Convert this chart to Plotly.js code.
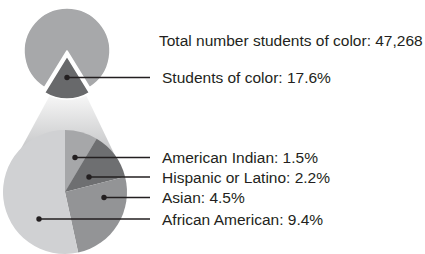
<!DOCTYPE html>
<html><head><meta charset="utf-8">
<script src="https://cdn.plot.ly/plotly-3.0.1.min.js"></script>
<style>html,body{margin:0;padding:0;background:#fff;overflow:hidden}</style>
</head><body><div id="chart" style="width:425px;height:254px"></div>
<script>
// ---- data ----
const totalStudents = 47268;
const topLabels = ['Other students', 'Students of color'];
const topValues = [82.4, 17.6];
const groupLabels = ['American Indian', 'Hispanic or Latino', 'Asian', 'African American'];
const groupValues = [1.5, 2.2, 4.5, 9.4];

// ---- layout geometry (pixels) ----
const W = 425, H = 254;
const topC = {x: 67, y: 51, r: 43}, pull = 0.12;
const botC = {x: 65, y: 192, r: 62};
const ink = '#231f20';
const FAMILY = '"Liberation Sans", Arial, sans-serif';
const FS = 15.5;
const py = v => H - v; // pixel y -> data y

const topLeader = {dx: 67, y: 77.5};
const groupLeader = [{dx: 75, y: 157.5}, {dx: 89, y: 177}, {dx: 104, y: 197.5}, {dx: 39, y: 219}];
const lineEnd = 150, textX = 160;

const totalText = 'Total number students of color: ' + totalStudents.toLocaleString('en-US');
const topText = 'Students of color: ' + topValues[1].toFixed(1) + '%';
const groupTexts = groupLabels.map((g, i) => g + ': ' + groupValues[i].toFixed(1) + '%');

// cone (gradient trapezoid) from the pulled slice down to tangents of the bottom pie
const tl = [50, 95], tr = [86, 95];
function tangent(p, dirx) {
  const len2 = dirx * dirx + 1;
  const t = ((botC.x - p[0]) * dirx + (botC.y - p[1])) / len2;
  return [p[0] + t * dirx, p[1] + t];
}
const sl = -0.54, sr = 0.48;
const lt = tangent(tl, sl), rt = tangent(tr, sr);
const coneX = [tl[0], tr[0], rt[0], botC.x, lt[0], tl[0]];
const coneY = [tl[1], tr[1], rt[1], botC.y, lt[1], tl[1]].map(py);

const topSum = topValues[0] + topValues[1];
const traces = [
  {type: 'scatter', x: coneX, y: coneY, mode: 'lines', line: {width: 0},
   fill: 'toself', fillcolor: '#d8d8d8',
   fillgradient: {type: 'vertical', start: py(165), stop: py(96),
     colorscale: [[0, '#b9babc'], [1, '#f6f6f6']]},
   hoverinfo: 'skip', showlegend: false},
  {type: 'pie', labels: topLabels, values: topValues, sort: false, direction: 'clockwise',
   rotation: 180 - (topValues[1] / topSum) * 180 - (topValues[0] / topSum) * 360,
   pull: [0, pull],
   marker: {colors: ['#a7a8aa', '#68696b'], line: {color: '#ffffff', width: 1.6}},
   textinfo: 'none', hoverinfo: 'skip', showlegend: false,
   domain: {x: [(topC.x - topC.r * (1 + pull)) / W, (topC.x + topC.r * (1 + pull)) / W],
            y: [(H - topC.y - topC.r * (1 + pull)) / H, (H - topC.y + topC.r * (1 + pull)) / H]}},
  {type: 'pie', labels: groupLabels, values: groupValues, sort: false, direction: 'clockwise',
   rotation: 0,
   marker: {colors: ['#a6a7a9', '#6e6f71', '#939496', '#d0d1d3'], line: {width: 0}},
   textinfo: 'none', hoverinfo: 'skip', showlegend: false,
   domain: {x: [(botC.x - botC.r) / W, (botC.x + botC.r) / W],
            y: [Math.max(0, (H - botC.y - botC.r) / H), (H - botC.y + botC.r) / H]}}
];

const shapes = [], annotations = [];
function leader(dx, y, text) {
  shapes.push({type: 'line', xref: 'x', yref: 'y', x0: dx, x1: lineEnd, y0: py(y), y1: py(y),
               line: {color: ink, width: 1.3}, layer: 'above'});
  shapes.push({type: 'circle', xref: 'x', yref: 'y', x0: dx - 2.7, x1: dx + 2.7, y0: py(y) - 2.7, y1: py(y) + 2.7,
               fillcolor: ink, line: {width: 0}, layer: 'above'});
  annotations.push({xref: 'x', yref: 'y', x: textX, y: py(y), text: text, showarrow: false,
                    xanchor: 'left', yanchor: 'middle', font: {family: FAMILY, size: FS, color: ink}});
}
leader(topLeader.dx, topLeader.y, topText);
groupTexts.forEach((t, i) => leader(groupLeader[i].dx, groupLeader[i].y, t));
annotations.push({xref: 'x', yref: 'y', x: textX - 3, y: py(40), showarrow: false, xanchor: 'left', yanchor: 'middle',
  text: totalText, font: {family: FAMILY, size: FS, color: ink}});

const layout = {
  width: W, height: H, margin: {l: 0, r: 0, t: 0, b: 0, pad: 0},
  paper_bgcolor: '#ffffff', plot_bgcolor: 'rgba(0,0,0,0)',
  xaxis: {range: [0, W], visible: false, fixedrange: true},
  yaxis: {range: [0, H], visible: false, fixedrange: true},
  shapes: shapes, annotations: annotations, showlegend: false
};
Plotly.newPlot('chart', traces, layout, {staticPlot: true, displayModeBar: false});
</script></body></html>
